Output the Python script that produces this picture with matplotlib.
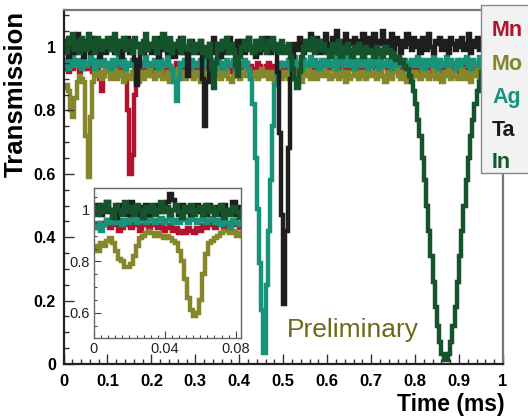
import numpy as np
import matplotlib
matplotlib.use("Agg")
import matplotlib.pyplot as plt
from matplotlib.patches import Rectangle
from matplotlib.ticker import MultipleLocator, FixedLocator

# ---------------- data ----------------
series_names = ["Mn", "Mo", "Ag", "Ta", "In"]
series_colors = ["#b3122e", "#85872a", "#17937a", "#1e1e1e", "#15532a"]
label_colors = ["#b0142e", "#84862c", "#16957b", "#1a1a1a", "#16582c"]

main_t_min, main_t_max, main_nbins = 0.0, 1.0, 200

mn = [0.93, 0.95, 0.92, 0.94, 0.93, 0.95, 0.94, 0.92, 0.94, 0.93, 0.95, 0.93, 0.94, 0.92, 0.95, 0.93, 0.90, 0.86, 0.91, 0.94,
      0.93, 0.95, 0.94, 0.92, 0.94, 0.93, 0.95, 0.93, 0.90, 0.80, 0.60, 0.66, 0.85, 0.93, 0.94, 0.92, 0.95, 0.93, 0.94, 0.93,
      0.94, 0.92, 0.95, 0.93, 0.94, 0.92, 0.93, 0.95, 0.94, 0.92, 0.93, 0.95, 0.93, 0.94, 0.92, 0.95, 0.93, 0.94, 0.92, 0.93,
      0.95, 0.93, 0.94, 0.92, 0.94, 0.93, 0.95, 0.92, 0.94, 0.93, 0.95, 0.94, 0.92, 0.93, 0.95, 0.94, 0.92, 0.94, 0.93, 0.95,
      0.93, 0.94, 0.92, 0.95, 0.93, 0.94, 0.92, 0.93, 0.95, 0.94, 0.92, 0.93, 0.94, 0.95, 0.93, 0.92, 0.94, 0.93, 0.95, 0.94,
      0.92, 0.94, 0.93, 0.95, 0.94, 0.92, 0.93, 0.95, 0.93, 0.94, 0.92, 0.95, 0.94, 0.93, 0.92, 0.94, 0.95, 0.93, 0.94, 0.92,
      0.94, 0.93, 0.95, 0.92, 0.94, 0.93, 0.95, 0.94, 0.92, 0.93, 0.95, 0.93, 0.94, 0.92, 0.95, 0.94, 0.93, 0.92, 0.94, 0.95,
      0.93, 0.95, 0.94, 0.92, 0.93, 0.95, 0.94, 0.93, 0.92, 0.94, 0.95, 0.93, 0.94, 0.92, 0.93, 0.95, 0.94, 0.92, 0.93, 0.94,
      0.95, 0.93, 0.92, 0.94, 0.93, 0.95, 0.94, 0.92, 0.93, 0.94, 0.95, 0.93, 0.92, 0.94, 0.93, 0.95, 0.94, 0.93, 0.92, 0.94,
      0.93, 0.94, 0.92, 0.95, 0.93, 0.94, 0.92, 0.93, 0.95, 0.94, 0.93, 0.92, 0.94, 0.95, 0.93, 0.94, 0.92, 0.93, 0.95, 0.94]

mo = [0.87, 0.88, 0.86, 0.80, 0.78, 0.84, 0.89, 0.91, 0.90, 0.89, 0.72, 0.59, 0.78, 0.89, 0.92, 0.91, 0.92, 0.90, 0.91, 0.93,
      0.92, 0.90, 0.91, 0.93, 0.90, 0.92, 0.91, 0.89, 0.92, 0.91, 0.90, 0.92, 0.93, 0.91, 0.89, 0.92, 0.90, 0.92, 0.91, 0.93,
      0.91, 0.90, 0.92, 0.91, 0.93, 0.90, 0.91, 0.92, 0.89, 0.91, 0.92, 0.90, 0.93, 0.91, 0.92, 0.90, 0.91, 0.93, 0.92, 0.90,
      0.92, 0.91, 0.89, 0.92, 0.90, 0.91, 0.93, 0.92, 0.90, 0.91, 0.92, 0.90, 0.91, 0.93, 0.92, 0.90, 0.89, 0.91, 0.92, 0.91,
      0.90, 0.92, 0.91, 0.93, 0.92, 0.90, 0.91, 0.92, 0.90, 0.91, 0.93, 0.91, 0.92, 0.90, 0.91, 0.92, 0.89, 0.91, 0.92, 0.90,
      0.91, 0.92, 0.90, 0.91, 0.93, 0.92, 0.90, 0.91, 0.89, 0.92, 0.91, 0.93, 0.90, 0.92, 0.91, 0.90, 0.92, 0.91, 0.93, 0.91,
      0.92, 0.90, 0.91, 0.93, 0.91, 0.90, 0.92, 0.91, 0.89, 0.92, 0.90, 0.91, 0.93, 0.92, 0.90, 0.91, 0.92, 0.90, 0.91, 0.93,
      0.91, 0.92, 0.90, 0.91, 0.93, 0.91, 0.89, 0.92, 0.91, 0.90, 0.92, 0.93, 0.91, 0.90, 0.92, 0.91, 0.89, 0.92, 0.90, 0.91,
      0.92, 0.91, 0.90, 0.93, 0.91, 0.92, 0.90, 0.91, 0.93, 0.90, 0.92, 0.91, 0.89, 0.92, 0.91, 0.93, 0.90, 0.92, 0.91, 0.90,
      0.91, 0.93, 0.90, 0.92, 0.91, 0.89, 0.92, 0.91, 0.93, 0.90, 0.91, 0.92, 0.90, 0.93, 0.91, 0.92, 0.90, 0.91, 0.92, 0.91]

ag = [0.94, 0.96, 0.93, 0.95, 0.97, 0.94, 0.96, 0.95, 0.93, 0.96, 0.94, 0.95, 0.97, 0.95, 0.93, 0.96, 0.94, 0.95, 0.96, 0.94,
      0.95, 0.93, 0.96, 0.94, 0.95, 0.97, 0.94, 0.96, 0.93, 0.95, 0.94, 0.96, 0.95, 0.93, 0.96, 0.94, 0.95, 0.97, 0.94, 0.95,
      0.94, 0.96, 0.95, 0.93, 0.96, 0.94, 0.95, 0.97, 0.94, 0.93, 0.89, 0.83, 0.90, 0.95, 0.94, 0.96, 0.95, 0.93, 0.96, 0.94,
      0.95, 0.94, 0.96, 0.93, 0.95, 0.97, 0.94, 0.96, 0.95, 0.93, 0.96, 0.94, 0.95, 0.93, 0.96, 0.95, 0.94, 0.96, 0.93, 0.95,
      0.95, 0.94, 0.96, 0.95, 0.93, 0.90, 0.82, 0.65, 0.49, 0.32, 0.17, 0.035, 0.25, 0.42, 0.58, 0.75, 0.88, 0.93, 0.95, 0.94,
      0.95, 0.94, 0.96, 0.93, 0.95, 0.97, 0.94, 0.95, 0.93, 0.96, 0.94, 0.95, 0.97, 0.94, 0.96, 0.95, 0.93, 0.96, 0.94, 0.95,
      0.96, 0.94, 0.95, 0.97, 0.93, 0.95, 0.96, 0.94, 0.95, 0.97, 0.94, 0.96, 0.93, 0.95, 0.96, 0.94, 0.97, 0.95, 0.93, 0.96,
      0.94, 0.96, 0.95, 0.93, 0.97, 0.95, 0.94, 0.96, 0.95, 0.93, 0.96, 0.94, 0.97, 0.95, 0.94, 0.96, 0.93, 0.95, 0.96, 0.94,
      0.95, 0.97, 0.94, 0.96, 0.93, 0.95, 0.96, 0.94, 0.97, 0.95, 0.93, 0.96, 0.94, 0.95, 0.97, 0.94, 0.96, 0.95, 0.93, 0.96,
      0.94, 0.96, 0.95, 0.97, 0.94, 0.93, 0.96, 0.95, 0.94, 0.97, 0.95, 0.93, 0.96, 0.94, 0.95, 0.97, 0.94, 0.96, 0.95, 0.94]

ta = [0.99, 1.02, 0.97, 1.03, 1.00, 0.98, 1.04, 0.99, 1.01, 0.97, 1.02, 1.00, 0.98, 1.03, 0.99, 1.01, 0.97, 1.02, 1.00, 0.98,
      1.01, 0.99, 1.03, 0.98, 1.00, 1.02, 0.97, 1.01, 0.99, 1.03, 0.98, 1.00, 0.96, 0.88, 0.94, 1.01, 0.98, 1.02, 0.99, 1.01,
      0.98, 1.02, 1.00, 0.97, 1.03, 0.99, 1.01, 0.98, 1.02, 1.00, 0.97, 1.01, 0.99, 1.03, 0.98, 1.00, 0.91, 0.98, 1.02, 0.99,
      1.00, 0.98, 1.02, 0.90, 0.75, 0.89, 1.01, 0.98, 1.03, 0.99, 1.01, 0.97, 1.02, 1.00, 0.98, 1.03, 0.99, 1.01, 0.98, 1.02,
      0.99, 1.02, 0.98, 1.01, 1.03, 0.99, 1.00, 0.97, 1.02, 0.98, 1.01, 0.99, 1.03, 1.00, 0.98, 1.02, 0.99, 0.92, 0.73, 0.47,
      0.19, 0.42, 0.68, 0.90, 0.97, 1.01, 0.99, 1.03, 1.00, 0.98, 1.02, 1.00, 1.04, 0.99, 1.01, 1.03, 0.98, 1.02, 1.00, 1.04,
      1.01, 0.99, 1.03, 1.00, 1.05, 0.98, 1.02, 1.00, 1.04, 0.99, 1.02, 1.01, 1.03, 0.98, 1.02, 1.00, 1.04, 0.99, 1.01, 1.03,
      1.00, 1.04, 0.98, 1.02, 1.01, 1.05, 0.99, 1.02, 1.00, 1.04, 0.99, 1.03, 1.01, 0.98, 1.02, 1.00, 1.04, 1.01, 0.99, 1.03,
      1.00, 1.02, 0.98, 1.03, 1.01, 0.99, 1.04, 1.00, 0.98, 1.02, 1.01, 1.03, 0.99, 1.02, 1.00, 0.98, 1.03, 1.01, 0.99, 1.02,
      1.00, 1.03, 0.99, 1.01, 1.04, 0.98, 1.02, 1.00, 1.03, 0.99, 1.01, 1.02, 0.98, 1.03, 1.00, 1.01, 0.99, 1.02, 1.00, 1.01]

in_ = [1.01, 0.98, 1.03, 1.00, 1.04, 0.99, 1.02, 0.98, 1.03, 1.01, 0.99, 1.04, 1.00, 1.02, 0.98, 1.03, 1.01, 0.99, 1.02, 1.00,
       1.03, 0.99, 1.01, 1.04, 0.98, 1.02, 1.00, 1.03, 0.99, 1.01, 1.02, 0.98, 1.03, 1.00, 1.01, 0.98, 1.02, 1.04, 0.99, 1.01,
       1.00, 1.03, 0.98, 1.02, 1.00, 1.04, 0.99, 1.01, 1.03, 0.98, 1.01, 1.00, 1.02, 0.98, 1.03, 1.00, 0.99, 1.02, 1.01, 0.98,
       1.01, 0.99, 1.02, 0.98, 1.00, 0.97, 1.01, 0.93, 0.87, 0.95, 1.01, 0.99, 1.02, 1.00, 1.03, 0.98, 1.01, 0.99, 0.94, 0.91,
       0.97, 1.00, 1.02, 0.99, 1.03, 1.00, 0.98, 1.02, 1.01, 0.99, 1.03, 1.00, 0.98, 1.02, 1.00, 1.03, 0.99, 1.01, 0.98, 1.02,
       1.00, 0.98, 1.01, 0.97, 0.93, 0.90, 0.87, 0.92, 0.97, 1.00, 1.02, 0.99, 1.01, 1.03, 0.98, 1.00, 1.02, 0.99, 1.01, 0.98,
       0.99, 0.97, 1.01, 0.98, 0.99, 1.02, 0.97, 1.00, 0.98, 1.01, 0.99, 0.97, 1.00, 0.98, 1.01, 0.99, 0.97, 1.00, 0.98, 0.99,
       0.99, 0.97, 1.00, 0.98, 0.99, 0.97, 1.00, 0.98, 0.99, 0.97, 0.98, 0.96, 0.97, 0.95, 0.96, 0.94, 0.93, 0.91, 0.89, 0.86,
       0.82, 0.77, 0.72, 0.65, 0.58, 0.50, 0.42, 0.34, 0.26, 0.18, 0.12, 0.07, 0.03, 0.012, 0.012, 0.03, 0.07, 0.12, 0.18, 0.26,
       0.34, 0.42, 0.50, 0.58, 0.65, 0.72, 0.77, 0.82, 0.86, 0.89, 0.92, 0.93, 0.95, 0.96, 0.97, 0.96, 0.98, 0.97, 0.99, 0.98]

main_series = [mn, mo, ag, ta, in_]

# inset: first 0.085 ms at finer binning
inset_t_min, inset_t_max, inset_nbins = 0.0, 0.085, 50

inset_mn = [0.94, 0.93, 0.95, 0.94, 0.96, 0.93, 0.95, 0.94, 0.92, 0.93, 0.95, 0.94, 0.93, 0.95, 0.94, 0.92, 0.94, 0.95, 0.93, 0.94,
            0.95, 0.93, 0.94, 0.92, 0.93, 0.94, 0.92, 0.93, 0.91, 0.92, 0.91, 0.93, 0.92, 0.91, 0.93, 0.92, 0.94, 0.93, 0.95, 0.94,
            0.93, 0.95, 0.94, 0.93, 0.95, 0.94, 0.96, 0.94, 0.93, 0.95]
inset_mo = [0.86, 0.84, 0.87, 0.86, 0.88, 0.89, 0.87, 0.84, 0.81, 0.80, 0.78, 0.78, 0.79, 0.82, 0.86, 0.89, 0.90, 0.91, 0.92, 0.91,
            0.90, 0.91, 0.90, 0.89, 0.90, 0.89, 0.88, 0.87, 0.84, 0.80, 0.73, 0.66, 0.61, 0.59, 0.60, 0.65, 0.75, 0.83, 0.87, 0.88,
            0.89, 0.90, 0.91, 0.92, 0.92, 0.91, 0.92, 0.90, 0.91, 0.90]
inset_ag = [0.93, 0.95, 0.92, 0.94, 0.96, 0.95, 0.97, 0.95, 0.96, 0.94, 0.96, 0.95, 0.97, 0.96, 0.95, 0.97, 0.96, 0.95, 0.97, 0.96,
            0.95, 0.96, 0.97, 0.95, 0.96, 0.97, 0.95, 0.96, 0.95, 0.97, 0.96, 0.95, 0.97, 0.96, 0.95, 0.96, 0.97, 0.95, 0.96, 0.97,
            0.95, 0.96, 0.94, 0.96, 0.95, 0.93, 0.96, 0.95, 0.94, 0.96]
inset_ta = [0.99, 1.02, 0.98, 1.01, 1.03, 0.99, 1.00, 0.97, 1.02, 0.99, 1.01, 0.98, 1.03, 1.00, 0.98, 1.01, 0.99, 1.02, 0.98, 1.01,
            1.00, 1.02, 0.99, 1.01, 1.03, 1.06, 1.04, 1.00, 0.98, 1.02, 0.99, 1.01, 0.98, 1.00, 1.02, 0.99, 1.01, 0.98, 1.02, 1.00,
            0.99, 1.01, 0.98, 1.02, 1.00, 0.99, 1.03, 0.98, 1.01, 1.00]
inset_in = [1.01, 0.98, 1.02, 0.99, 1.03, 1.00, 0.97, 1.02, 1.00, 0.98, 1.03, 0.99, 1.01, 0.98, 1.02, 1.00, 0.97, 1.01, 0.99, 1.02,
            0.98, 1.00, 1.03, 0.99, 1.01, 0.98, 1.00, 1.02, 0.99, 0.97, 1.01, 0.99, 1.02, 0.98, 1.00, 1.01, 0.98, 1.02, 0.99, 1.01,
            0.98, 1.00, 1.02, 0.97, 1.00, 0.98, 1.01, 0.99, 0.97, 1.00]
inset_series = [inset_mn, inset_mo, inset_ag, inset_ta, inset_in]

main_xticks = [0, 0.1, 0.2, 0.3, 0.4, 0.5, 0.6, 0.7, 0.8, 0.9, 1]
main_xticklabels = ["0", "0.1", "0.2", "0.3", "0.4", "0.5", "0.6", "0.7", "0.8", "0.9", "1"]
main_yticks = [0, 0.2, 0.4, 0.6, 0.8, 1]
main_yticklabels = ["0", "0.2", "0.4", "0.6", "0.8", "1"]
inset_xticks = [0, 0.04, 0.08]
inset_xticklabels = ["0", "0.04", "0.08"]
inset_yticks = [0.6, 0.8, 1]
inset_yticklabels = ["0.6", "0.8", "1"]

# ---------------- fonts ----------------
plt.rcParams["font.family"] = ["Liberation Sans", "DejaVu Sans"]

W, H = 528, 420
fig = plt.figure(figsize=(W / 100, H / 100), dpi=100)
fig.patch.set_facecolor("white")

def fx(px):
    return px / W

def fy(py):
    return 1 - py / H

LW = 3.2

# ---------------- main axes ----------------
ax = fig.add_axes([fx(63.5), fy(364), fx(503) - fx(63.5), fy(10) - fy(364)])
edges = np.linspace(main_t_min, main_t_max, main_nbins + 1)
for vals, col in zip(main_series, series_colors):
    ax.stairs(vals, edges, baseline=None, color=col, linewidth=LW)
ax.set_xlim(0, 1)
ax.set_ylim(0, 1.117)
ax.xaxis.set_major_locator(FixedLocator(main_xticks))
ax.set_xticklabels(main_xticklabels)
ax.yaxis.set_major_locator(FixedLocator(main_yticks))
ax.set_yticklabels(main_yticklabels)
ax.xaxis.set_minor_locator(MultipleLocator(0.02))
ax.yaxis.set_minor_locator(MultipleLocator(0.05))
ax.tick_params(which="both", direction="in", top=False, right=False, color="#333333", width=1.0)
ax.tick_params(which="major", length=7)
ax.tick_params(which="minor", length=3.5)
ax.tick_params(axis="x", which="major", pad=7, labelsize=12)
ax.tick_params(axis="y", which="major", pad=5.5, labelsize=11.5)
for lab in ax.get_xticklabels() + ax.get_yticklabels():
    lab.set_fontweight("bold")
for s in ["left", "bottom"]:
    ax.spines[s].set_color("#222222")
    ax.spines[s].set_linewidth(1.6)
for s in ["top", "right"]:
    ax.spines[s].set_color("#777777")
    ax.spines[s].set_linewidth(1.6)

ax.text(0.508, 0.085, "Preliminary", color="#6e6918", fontsize=19,
        ha="left", va="baseline", transform=ax.transData)

fig.text(fx(505), fy(411), "Time (ms)", ha="right", va="baseline",
         fontsize=16.5, fontweight="bold")
fig.text(fx(16), fy(11), "Transmission", ha="center", va="top", rotation=90,
         fontsize=18.5, fontweight="bold")

# ---------------- inset ----------------
axi = fig.add_axes([fx(94), fy(337.7), fx(241) - fx(94), fy(188) - fy(337.7)])
axi.set_facecolor("white")
iedges = np.linspace(inset_t_min, inset_t_max, inset_nbins + 1)
for vals, col in zip(inset_series, series_colors):
    axi.stairs(vals, iedges, baseline=None, color=col, linewidth=LW)
axi.set_xlim(0, 0.083)
axi.set_ylim(0.504, 1.085)
axi.xaxis.set_major_locator(FixedLocator(inset_xticks))
axi.set_xticklabels(inset_xticklabels)
axi.yaxis.set_major_locator(FixedLocator(inset_yticks))
axi.set_yticklabels(inset_yticklabels)
axi.xaxis.set_minor_locator(MultipleLocator(0.004))
axi.yaxis.set_minor_locator(MultipleLocator(0.05))
axi.tick_params(which="both", direction="in", top=False, right=False, color="#444444", width=0.8)
axi.tick_params(which="major", length=5)
axi.tick_params(which="minor", length=2.5)
axi.tick_params(axis="both", which="major", pad=3, labelsize=10.5, labelcolor="#222222")
for s in axi.spines.values():
    s.set_color("#666666")
    s.set_linewidth(1.0)

# ---------------- legend ----------------
leg_box = Rectangle((fx(481), fy(173)), fx(540) - fx(481), fy(5) - fy(173),
                    transform=fig.transFigure, facecolor="#f1f2f1",
                    edgecolor="#888888", linewidth=1.0, zorder=5)
fig.patches.append(leg_box)
leg_baselines = [36, 70, 103, 136, 168]
for name, col, yb in zip(series_names, label_colors, leg_baselines):
    fig.text(fx(492), fy(yb), name, color=col, fontsize=15.5, fontweight="bold",
             ha="left", va="baseline", zorder=6)

fig.savefig("out.png", dpi=100)
